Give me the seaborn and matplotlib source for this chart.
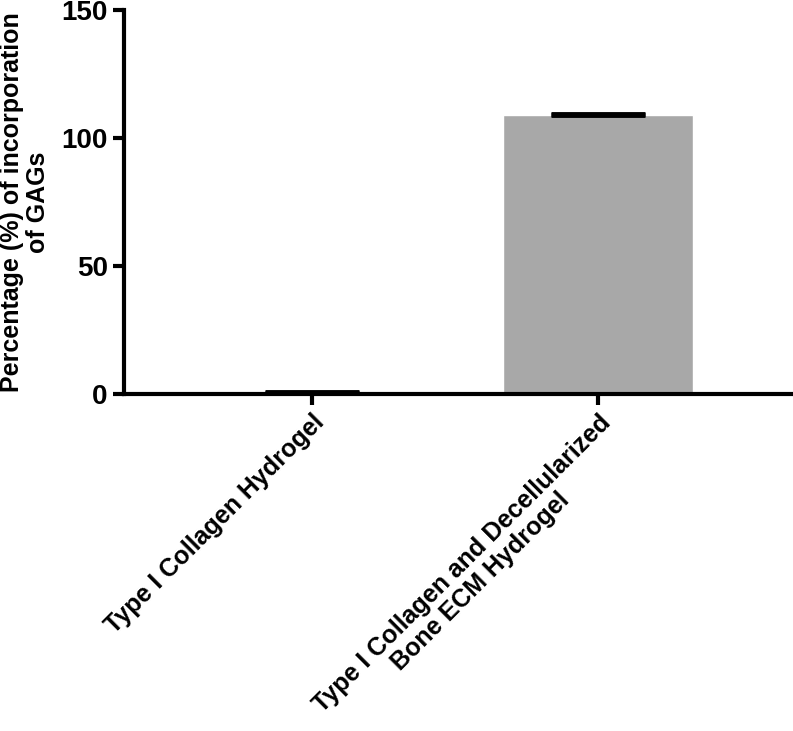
import matplotlib
matplotlib.use("Agg")
import matplotlib.pyplot as plt
import numpy as np
import seaborn as sns

# data
categories = ["Type I Collagen Hydrogel",
              "Type I Collagen and Decellularized\nBone ECM Hydrogel"]
means = [0.4, 108.9]
sd_upper = [0.3, 0.7]

sns.set_style("ticks", {"text.color": "black", "axes.labelcolor": "black",
                        "xtick.color": "black", "ytick.color": "black",
                        "axes.edgecolor": "black"})
plt.rcParams['font.family'] = ['Liberation Sans', 'DejaVu Sans']
plt.rcParams['font.weight'] = 'bold'

fig = plt.figure(figsize=(7.93, 7.31), dpi=100)
ax = fig.add_axes([0.156, 0.461, 0.844, 0.525])

sns.barplot(x=categories, y=means, color="#A8A8A8", saturation=1,
            width=0.664, ax=ax)
x_pos = np.arange(len(categories))
ax.errorbar(x_pos, means, yerr=[np.zeros(len(means)), sd_upper], fmt='none',
            ecolor='black', elinewidth=3, capsize=34, capthick=3.5, zorder=3)

ax.set_xlim(-0.657, 1.68)
ax.set_ylim(0, 150)
ax.set_yticks([0, 50, 100, 150])
ax.set_ylabel("Percentage (%) of incorporation\nof GAGs", fontsize=18,
              fontweight='bold', color='black', labelpad=8, linespacing=1.1)
ax.tick_params(axis='both', width=3, length=8, labelsize=20, color='black',
               labelcolor='black')
for lbl in ax.get_yticklabels():
    lbl.set_fontweight('bold')
ax.set_xticks(x_pos)
ax.set_xticklabels(categories, rotation=45, ha='right', rotation_mode='anchor',
                   multialignment='center', fontsize=18, fontweight='bold',
                   linespacing=1.1)
for s in ['left', 'bottom']:
    ax.spines[s].set_linewidth(3)
    ax.spines[s].set_color('black')
sns.despine(ax=ax)

fig.savefig("out.png", dpi=100)
